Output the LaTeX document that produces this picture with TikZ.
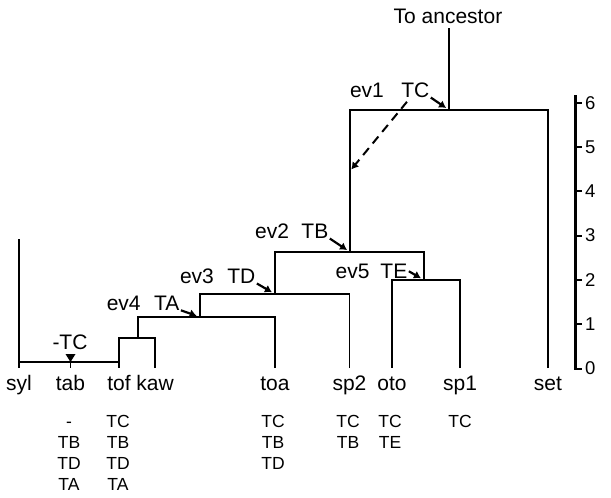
\documentclass[tikz,border=0pt]{standalone}
\usepackage{fontspec}
\setmainfont{Liberation Sans}
\usetikzlibrary{arrows.meta}

\begin{document}
\begin{tikzpicture}[x = 1pt, y = -1pt, line width = 1.4pt,
    every node/.style = {inner sep = 0pt},
    taxon/.style = {font = \fontsize{21}{25}\selectfont, anchor = base},
    evlab/.style = {font = \fontsize{21}{25}\selectfont, anchor = base east},
    trait/.style = {font = \fontsize{17.5}{21}\selectfont, anchor = base},
    scalelab/.style = {font = \fontsize{18.5}{22}\selectfont, anchor = west},
    evarr/.style = {-{Latex[length = 7pt, width = 8.5pt]}, line width = 2.2pt,
        shorten < = 1pt, shorten > = 3.5pt},
    transfer/.style = {evarr, line width = 2pt, shorten > = 2pt,
        dash pattern = on 9pt off 6pt}]
    \useasboundingbox (0,0) rectangle (611,498);
    \foreach \leaf/\x in {syl/19, tab/70.5, tof/119, kaw/155, toa/275,
        sp2/349.5, oto/392, sp1/460, set/548} {
        \coordinate (\leaf) at (\x,368);
        \node[taxon] (\leaf-lab) at (\x,390) {\leaf};
    }
    \coordinate (n1) at (70.5,362);
    \coordinate (n2) at (138,338);
    \coordinate (ev4) at (200,317);
    \coordinate (ev3) at (275,294);
    \coordinate (ev5) at (424,280);
    \coordinate (ev2) at (350,252);
    \coordinate (ev1) at (449,110);
    \coordinate (anc) at (449,28);
    \coordinate (sylend) at (19,239);
    \coordinate (hit) at (350,171);
    \draw (sylend) -- (syl);
    \draw (syl |- n1) -- (tof |- n1);
    \draw (n1) -- (tab);
    \draw (kaw) |- (n2) -| (tof);
    \draw (toa) |- (ev4) -| (n2);
    \draw (sp2) |- (ev3) -| (ev4);
    \draw (sp1) |- (ev5) -| (oto);
    \draw (ev5) |- (ev2) -| (ev3);
    \draw (set) |- (ev1) -| (ev2);
    \draw (ev1) -- (anc);
    \node[taxon] (anc-lab) at (448,23) {To ancestor};
    \foreach \i/\tr/\x/\y/\gap in {1/TC/430/97/16, 2/TB/329/238/11,
        3/TD/256/283/12, 4/TA/180/310/12, 5/TE/408/278/9.5} {
        \node[evlab] (tr\i) at (\x,\y) {\tr};
        \node[evlab] (evl\i) at ([xshift = -\gap pt]tr\i.base west) {ev\i};
    }
    \draw[evarr] (tr1.base east) -- (ev1);
    \draw[evarr] (tr2.base east) -- (ev2);
    \draw[evarr] (tr3.base east) -- (ev3);
    \draw[evarr] (tr4.base east) -- (ev4);
    \draw[evarr] (tr5.east) -- (ev5);
    \draw[transfer] ([shift = {(7,4)}]tr1.base west) -- (hit);
    \fill (n1) -- ++(-5,-8) -- ++(10,0) -- cycle;
    \node[taxon] (loss) at (70,349) {-TC};
    \foreach \col/\x/\items in {tab/69/{-,TB,TD,TA}, tof/118/{TC,TB,TD,TA},
        toa/273/{TC,TB,TD}, sp2/348/{TC,TB}, oto/390/{TC,TE}, sp1/460/{TC}}
        \foreach \tr [count = \r] in \items
            \node[trait] (\col-\r) at (\x,406+21*\r) {\tr};
    \draw[line width = 3pt] (575,95) -- (575,369.5);
    \foreach \i in {0,...,6}
        \draw[line width = 2pt] (575,368.5-44.3*\i) -- ++(7,0)
            node[scalelab, xshift = 2pt] (s\i) {\i};
\end{tikzpicture}
\end{document}
